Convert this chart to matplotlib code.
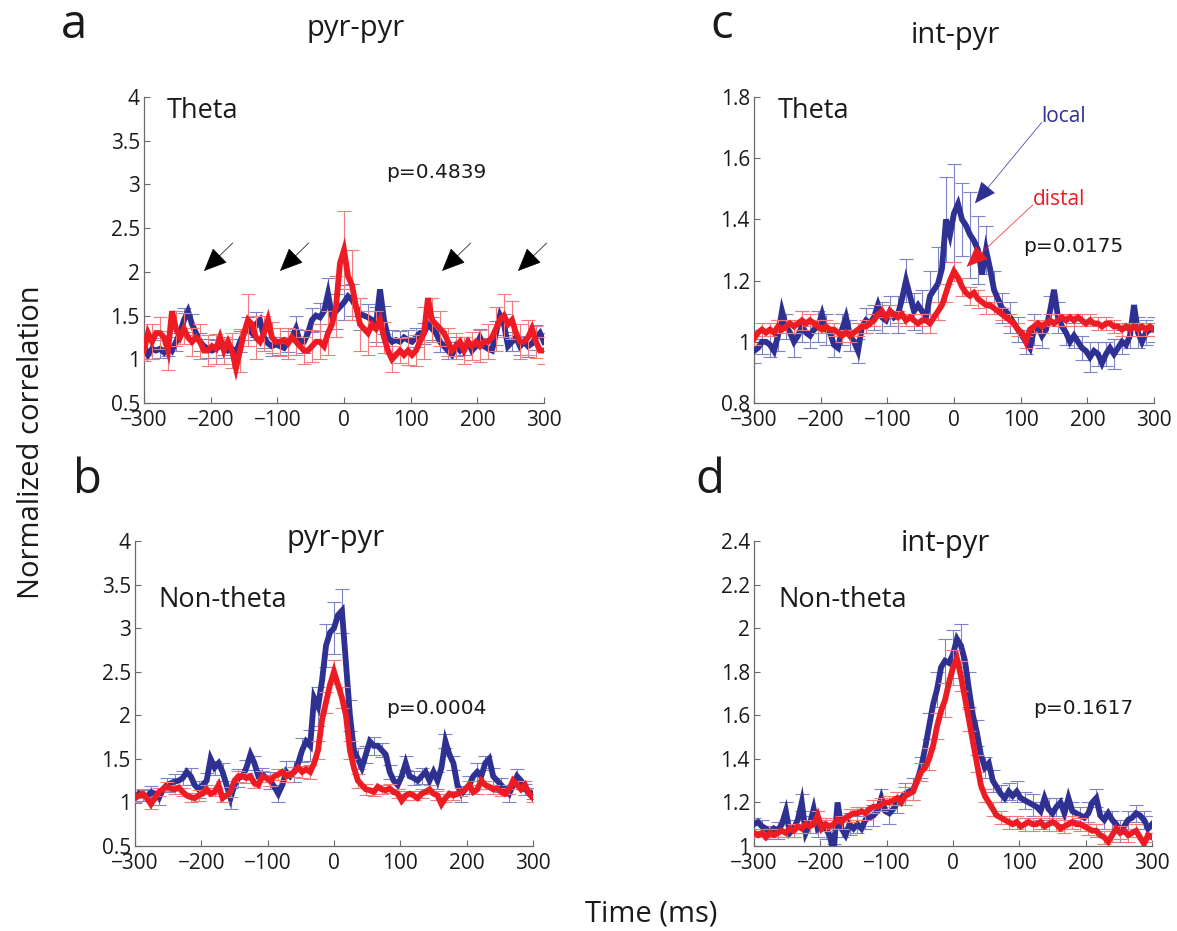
import numpy as np
import matplotlib
matplotlib.use('Agg')
import matplotlib.pyplot as plt
from matplotlib.ticker import FormatStrFormatter

# ---------------- data ----------------
time_ms = np.arange(-300, 301, 6)          # 101 lag bins (ms)
time_err = time_ms[::2]                     # error bars drawn every other bin

# panel a : pyr-pyr, theta
a_local = [1.15, 1.05, 1.12, 1.10, 1.12, 1.08, 1.15, 1.10, 1.20, 1.30,
           1.45, 1.55, 1.40, 1.30, 1.20, 1.15, 1.12, 1.10, 1.12, 1.15,
           1.15, 1.10, 1.12, 1.08, 1.20, 1.30, 1.35, 1.30, 1.40, 1.45,
           1.25, 1.18, 1.15, 1.17, 1.15, 1.13, 1.20, 1.25, 1.35, 1.20,
           1.20, 1.30, 1.45, 1.50, 1.48, 1.55, 1.75, 1.50, 1.55, 1.60,
           1.65, 1.72, 1.68, 1.60, 1.52, 1.50, 1.48, 1.45, 1.40, 1.80,
           1.45, 1.25, 1.20, 1.22, 1.20, 1.25, 1.22, 1.20, 1.25, 1.30,
           1.30, 1.40, 1.35, 1.30, 1.20, 1.15, 1.10, 1.05, 1.15, 1.10,
           1.15, 1.20, 1.10, 1.15, 1.25, 1.15, 1.12, 1.10, 1.30, 1.50,
           1.40, 1.15, 1.20, 1.25, 1.15, 1.20, 1.15, 1.18, 1.25, 1.30, 1.20]
a_distal = [1.10, 1.30, 1.20, 1.30, 1.30, 1.25, 1.10, 1.55, 1.35, 1.25,
            1.35, 1.25, 1.20, 1.25, 1.20, 1.10, 1.10, 1.15, 1.12, 1.25,
            1.10, 1.20, 1.10, 0.90, 1.10, 1.30, 1.45, 1.40, 1.25, 1.20,
            1.30, 1.45, 1.25, 1.20, 1.20, 1.22, 1.18, 1.25, 1.20, 1.15,
            1.10, 1.10, 1.15, 1.20, 1.20, 1.15, 1.30, 1.40, 1.60, 2.10,
            2.25, 1.95, 1.85, 1.60, 1.40, 1.35, 1.30, 1.40, 1.35, 1.45,
            1.25, 1.10, 1.00, 1.05, 1.10, 1.05, 1.10, 1.05, 1.10, 1.20,
            1.30, 1.70, 1.45, 1.40, 1.35, 1.30, 1.20, 1.10, 1.15, 1.20,
            1.10, 1.20, 1.15, 1.20, 1.15, 1.20, 1.20, 1.25, 1.35, 1.45,
            1.50, 1.40, 1.45, 1.30, 1.20, 1.20, 1.25, 1.35, 1.20, 1.10, 1.10]
a_local_err = [0.10, 0.12, 0.10, 0.11, 0.10, 0.14, 0.12, 0.10, 0.11, 0.10,
               0.10, 0.11, 0.12, 0.13, 0.14, 0.12, 0.11, 0.10, 0.12, 0.14,
               0.13, 0.14, 0.16, 0.18, 0.20, 0.20, 0.18, 0.18, 0.15, 0.20,
               0.16, 0.14, 0.12, 0.12, 0.11, 0.12, 0.13, 0.12, 0.10, 0.11,
               0.10, 0.11, 0.10, 0.12, 0.14, 0.12, 0.11, 0.10, 0.12, 0.14, 0.10]
a_distal_err = [0.12, 0.20, 0.18, 0.22, 0.20, 0.18, 0.16, 0.20, 0.18, 0.17,
                0.15, 0.20, 0.25, 0.30, 0.25, 0.20, 0.18, 0.16, 0.18, 0.15,
                0.15, 0.18, 0.20, 0.25, 0.35, 0.45, 0.40, 0.30, 0.25, 0.20,
                0.18, 0.15, 0.14, 0.16, 0.18, 0.30, 0.25, 0.20, 0.16, 0.15,
                0.15, 0.16, 0.18, 0.20, 0.25, 0.25, 0.22, 0.20, 0.20, 0.18, 0.15]

# panel b : pyr-pyr, non-theta
b_local = [1.05, 1.10, 1.08, 1.06, 1.12, 1.10, 1.05, 1.15, 1.20, 1.22,
           1.24, 1.25, 1.28, 1.35, 1.30, 1.20, 1.15, 1.20, 1.25, 1.50,
           1.40, 1.45, 1.35, 1.20, 1.05, 1.20, 1.28, 1.30, 1.40, 1.55,
           1.45, 1.30, 1.32, 1.28, 1.25, 1.18, 1.10, 1.20, 1.35, 1.30,
           1.35, 1.45, 1.60, 1.70, 1.65, 2.20, 2.10, 2.40, 2.80, 2.95,
           3.00, 3.15, 3.20, 2.60, 2.00, 1.60, 1.50, 1.40, 1.55, 1.70,
           1.65, 1.65, 1.60, 1.55, 1.35, 1.25, 1.20, 1.30, 1.45, 1.30,
           1.28, 1.25, 1.30, 1.35, 1.25, 1.35, 1.25, 1.40, 1.70, 1.55,
           1.45, 1.20, 1.10, 1.15, 1.20, 1.30, 1.35, 1.30, 1.45, 1.50,
           1.30, 1.25, 1.20, 1.15, 1.10, 1.20, 1.30, 1.25, 1.15, 1.12, 1.10]
b_distal = [1.05, 1.08, 1.10, 1.05, 0.98, 1.05, 1.12, 1.15, 1.18, 1.16,
            1.15, 1.17, 1.12, 1.08, 1.06, 1.05, 1.08, 1.10, 1.15, 1.10,
            1.12, 1.20, 1.05, 1.08, 1.12, 1.25, 1.30, 1.30, 1.28, 1.30,
            1.22, 1.20, 1.30, 1.28, 1.25, 1.30, 1.32, 1.35, 1.30, 1.32,
            1.35, 1.40, 1.35, 1.38, 1.35, 1.45, 1.60, 1.95, 2.15, 2.35,
            2.50, 2.35, 2.20, 2.00, 1.60, 1.40, 1.25, 1.20, 1.15, 1.14,
            1.12, 1.18, 1.15, 1.14, 1.16, 1.12, 1.10, 1.02, 1.08, 1.10,
            1.08, 1.05, 1.10, 1.12, 1.15, 1.10, 1.08, 0.98, 1.05, 1.10,
            1.08, 1.10, 1.12, 1.15, 1.20, 1.12, 1.15, 1.25, 1.20, 1.18,
            1.15, 1.16, 1.12, 1.10, 1.15, 1.25, 1.20, 1.15, 1.20, 1.10, 1.05]
b_local_err = [0.06, 0.06, 0.07, 0.08, 0.08, 0.09, 0.08, 0.10, 0.10, 0.09,
               0.08, 0.10, 0.12, 0.10, 0.09, 0.08, 0.08, 0.10, 0.10, 0.12,
               0.12, 0.14, 0.18, 0.22, 0.25, 0.30, 0.25, 0.18, 0.12, 0.10,
               0.10, 0.08, 0.08, 0.10, 0.08, 0.08, 0.09, 0.10, 0.10, 0.08,
               0.08, 0.09, 0.10, 0.10, 0.08, 0.10, 0.08, 0.09, 0.08, 0.06, 0.06]
b_distal_err = [0.05, 0.05, 0.05, 0.05, 0.05, 0.05, 0.05, 0.05, 0.06, 0.05,
                0.05, 0.05, 0.06, 0.06, 0.06, 0.05, 0.06, 0.06, 0.06, 0.06,
                0.06, 0.07, 0.08, 0.10, 0.12, 0.14, 0.12, 0.10, 0.08, 0.06,
                0.05, 0.05, 0.05, 0.05, 0.05, 0.05, 0.05, 0.05, 0.05, 0.05,
                0.05, 0.05, 0.05, 0.05, 0.05, 0.05, 0.05, 0.05, 0.05, 0.05, 0.05]

# panel c : int-pyr, theta
c_local = [0.97, 0.98, 1.00, 1.00, 0.99, 0.97, 1.02, 1.10, 1.05, 1.03,
           1.00, 1.02, 1.05, 1.03, 1.02, 1.04, 1.05, 1.09, 1.04, 1.03,
           0.99, 0.98, 1.04, 1.08, 1.02, 1.00, 0.97, 1.05, 1.07, 1.06,
           1.08, 1.12, 1.08, 1.07, 1.10, 1.08, 1.09, 1.14, 1.20, 1.15,
           1.10, 1.12, 1.10, 1.08, 1.15, 1.17, 1.19, 1.24, 1.40, 1.35,
           1.42, 1.45, 1.40, 1.38, 1.35, 1.33, 1.30, 1.22, 1.30, 1.24,
           1.17, 1.14, 1.11, 1.10, 1.08, 1.06, 1.04, 1.02, 1.00, 0.98,
           1.04, 1.05, 1.02, 1.04, 1.10, 1.17, 1.08, 1.05, 1.03, 1.00,
           1.02, 1.00, 0.98, 0.97, 0.95, 0.97, 0.96, 0.93, 0.96, 0.98,
           0.96, 0.98, 1.00, 0.99, 1.02, 1.12, 1.03, 1.00, 1.03, 1.04, 1.04]
c_distal = [1.01, 1.03, 1.04, 1.03, 1.04, 1.03, 1.05, 1.04, 1.05, 1.06,
            1.05, 1.06, 1.07, 1.06, 1.07, 1.06, 1.05, 1.04, 1.05, 1.04,
            1.04, 1.03, 1.02, 1.03, 1.02, 1.03, 1.04, 1.05, 1.05, 1.06,
            1.07, 1.09, 1.10, 1.08, 1.10, 1.09, 1.08, 1.09, 1.07, 1.08,
            1.07, 1.06, 1.07, 1.07, 1.06, 1.08, 1.10, 1.12, 1.16, 1.20,
            1.23, 1.21, 1.18, 1.16, 1.15, 1.16, 1.14, 1.13, 1.12, 1.12,
            1.11, 1.10, 1.09, 1.08, 1.07, 1.06, 1.04, 1.03, 1.00, 1.04,
            1.05, 1.06, 1.05, 1.06, 1.07, 1.06, 1.07, 1.08, 1.07, 1.08,
            1.07, 1.08, 1.07, 1.06, 1.07, 1.06, 1.06, 1.05, 1.06, 1.06,
            1.05, 1.05, 1.04, 1.05, 1.04, 1.05, 1.04, 1.05, 1.04, 1.05, 1.04]
c_local_err = [0.04, 0.04, 0.04, 0.05, 0.04, 0.05, 0.05, 0.04, 0.05, 0.05,
               0.04, 0.05, 0.05, 0.04, 0.04, 0.04, 0.05, 0.05, 0.06, 0.07,
               0.06, 0.07, 0.08, 0.12, 0.14, 0.16, 0.12, 0.14, 0.11, 0.08,
               0.06, 0.05, 0.05, 0.04, 0.04, 0.05, 0.04, 0.05, 0.05, 0.04,
               0.04, 0.04, 0.05, 0.04, 0.04, 0.05, 0.04, 0.04, 0.05, 0.04, 0.04]
c_distal_err = [0.02, 0.02, 0.02, 0.02, 0.02, 0.02, 0.03, 0.02, 0.02, 0.02,
                0.02, 0.02, 0.02, 0.02, 0.02, 0.02, 0.02, 0.02, 0.02, 0.02,
                0.02, 0.02, 0.03, 0.03, 0.03, 0.03, 0.03, 0.03, 0.03, 0.03,
                0.02, 0.02, 0.02, 0.02, 0.02, 0.02, 0.02, 0.02, 0.02, 0.02,
                0.02, 0.02, 0.02, 0.02, 0.02, 0.02, 0.02, 0.02, 0.02, 0.02, 0.02]

# panel d : int-pyr, non-theta
d_local = [1.10, 1.11, 1.09, 1.08, 1.06, 1.08, 1.07, 1.10, 1.16, 1.06,
           1.08, 1.12, 1.20, 1.06, 1.10, 1.17, 1.08, 1.10, 1.08, 1.05,
           0.97, 1.20, 1.08, 1.05, 1.10, 1.08, 1.10, 1.08, 1.12, 1.13,
           1.14, 1.16, 1.22, 1.16, 1.15, 1.17, 1.20, 1.22, 1.24, 1.25,
           1.26, 1.30, 1.36, 1.45, 1.55, 1.65, 1.72, 1.82, 1.85, 1.84,
           1.88, 1.95, 1.92, 1.85, 1.72, 1.60, 1.52, 1.42, 1.36, 1.38,
           1.30, 1.27, 1.24, 1.22, 1.25, 1.23, 1.25, 1.22, 1.21, 1.20,
           1.19, 1.18, 1.16, 1.22, 1.17, 1.15, 1.18, 1.20, 1.15, 1.22,
           1.16, 1.15, 1.14, 1.13, 1.15, 1.20, 1.22, 1.14, 1.12, 1.15,
           1.12, 1.10, 1.07, 1.09, 1.12, 1.13, 1.15, 1.14, 1.12, 1.08, 1.10]
d_distal = [1.06, 1.05, 1.06, 1.04, 1.06, 1.05, 1.06, 1.07, 1.06, 1.08,
            1.07, 1.09, 1.08, 1.10, 1.09, 1.10, 1.14, 1.08, 1.10, 1.09,
            1.10, 1.12, 1.11, 1.13, 1.14, 1.15, 1.15, 1.16, 1.15, 1.17,
            1.18, 1.18, 1.19, 1.20, 1.20, 1.21, 1.22, 1.20, 1.23, 1.24,
            1.25, 1.30, 1.34, 1.36, 1.40, 1.46, 1.55, 1.62, 1.67, 1.75,
            1.82, 1.86, 1.78, 1.68, 1.58, 1.48, 1.38, 1.28, 1.23, 1.20,
            1.17, 1.14, 1.13, 1.12, 1.11, 1.10, 1.11, 1.09, 1.10, 1.11,
            1.10, 1.10, 1.11, 1.09, 1.10, 1.11, 1.10, 1.08, 1.09, 1.10,
            1.11, 1.10, 1.10, 1.09, 1.08, 1.07, 1.07, 1.05, 1.04, 1.02,
            1.05, 1.08, 1.06, 1.07, 1.05, 1.06, 1.07, 1.04, 1.01, 1.05, 1.04]
d_local_err = [0.03, 0.03, 0.03, 0.04, 0.04, 0.04, 0.04, 0.04, 0.04, 0.05,
               0.04, 0.04, 0.05, 0.04, 0.04, 0.05, 0.04, 0.05, 0.05, 0.05,
               0.05, 0.05, 0.06, 0.08, 0.10, 0.11, 0.10, 0.08, 0.06, 0.05,
               0.05, 0.04, 0.04, 0.05, 0.04, 0.05, 0.04, 0.05, 0.04, 0.05,
               0.04, 0.04, 0.05, 0.04, 0.04, 0.04, 0.05, 0.04, 0.04, 0.04, 0.04]
d_distal_err = [0.02, 0.02, 0.02, 0.02, 0.02, 0.03, 0.02, 0.03, 0.02, 0.03,
                0.02, 0.03, 0.03, 0.03, 0.03, 0.03, 0.03, 0.03, 0.03, 0.04,
                0.04, 0.04, 0.05, 0.06, 0.08, 0.08, 0.07, 0.05, 0.04, 0.03,
                0.03, 0.03, 0.03, 0.03, 0.03, 0.03, 0.03, 0.03, 0.03, 0.03,
                0.03, 0.03, 0.03, 0.03, 0.03, 0.03, 0.03, 0.03, 0.03, 0.02, 0.02]

x_ticks = [-300, -200, -100, 0, 100, 200, 300]
panel_letters = ['a', 'b', 'c', 'd']
panel_titles = ['pyr-pyr', 'pyr-pyr', 'int-pyr', 'int-pyr']
state_labels = ['Theta', 'Non-theta', 'Theta', 'Non-theta']
p_labels = ['p=0.4839', 'p=0.0004', 'p=0.0175', 'p=0.1617']
arrow_tips_a = [-210, -96, 147, 261]

# ---------------- style ----------------
BLUE = '#2E3192'
RED = '#ED1C24'
BLUE_ERR = '#7E82C6'
RED_ERR = '#F47A7A'
plt.rcParams['font.family'] = ['Open Sans', 'DejaVu Sans']

W, H = 1177, 931
fig = plt.figure(figsize=(W / 100, H / 100), dpi=100)


def rect(left, top, right, bottom):
    return [left / W, 1 - bottom / H, (right - left) / W, (bottom - top) / H]


def ftext(px, py, s, **kw):
    fig.text(px / W, 1 - py / H, s, **kw)


def panel(r, local, distal, lerr, derr, ylim, ystep):
    ax = fig.add_axes(r)
    loc = np.asarray(local)
    dis = np.asarray(distal)
    ax.errorbar(time_err, loc[::2], yerr=lerr, fmt='none', ecolor=BLUE_ERR,
                elinewidth=0.8, capsize=5, capthick=0.8, zorder=2)
    ax.plot(time_ms, loc, color=BLUE, lw=4.2, zorder=3, solid_joinstyle='miter')
    ax.errorbar(time_err, dis[::2], yerr=derr, fmt='none', ecolor=RED_ERR,
                elinewidth=0.8, capsize=5, capthick=0.8, zorder=4)
    ax.plot(time_ms, dis, color=RED, lw=4.2, zorder=5, solid_joinstyle='miter')
    ax.set_xlim(-300, 300)
    ax.set_ylim(*ylim)
    ax.set_xticks(x_ticks)
    ax.set_yticks(np.arange(ylim[0], ylim[1] + ystep / 2, ystep))
    ax.yaxis.set_major_formatter(FormatStrFormatter('%g'))
    for s in ('top', 'right'):
        ax.spines[s].set_visible(False)
    for s in ('left', 'bottom'):
        ax.spines[s].set_color('#6a6a6a')
        ax.spines[s].set_linewidth(0.9)
    ax.tick_params(direction='in', length=4, width=0.8, color='#6a6a6a',
                   labelsize=15, labelcolor='#1a1a1a')
    ax.tick_params(axis='y', pad=3)
    ax.tick_params(axis='x', pad=5)
    return ax


ax_a = panel(rect(144, 97, 544, 403), a_local, a_distal, a_local_err, a_distal_err, (0.5, 4.0), 0.5)
ax_c = panel(rect(754, 97, 1154, 403), c_local, c_distal, c_local_err, c_distal_err, (0.8, 1.8), 0.2)
ax_b = panel(rect(135, 541, 533, 846), b_local, b_distal, b_local_err, b_distal_err, (0.5, 4.0), 0.5)
ax_d = panel(rect(754, 541, 1152, 846), d_local, d_distal, d_local_err, d_distal_err, (1.0, 2.4), 0.2)

axes = [ax_a, ax_b, ax_c, ax_d]
state_pos = [(0.0575, 0.931), (0.058, 0.784), (0.06, 0.931), (0.06, 0.784)]
p_pos = [(63, 3.074), (78.4, 2.015), (103.5, 1.293), (120.6, 1.606)]
for ax, st, sp, pl, pp in zip(axes, state_labels, state_pos, p_labels, p_pos):
    ax.text(sp[0], sp[1], st, transform=ax.transAxes, fontsize=19.5,
            color='#1a1a1a', ha='left', va='baseline')
    ax.text(pp[0], pp[1], pl, fontsize=14.5, family='DejaVu Sans',
            color='#1a1a1a', ha='left', va='baseline')

# arrows marking theta-rhythmic side peaks in panel a
for tip in arrow_tips_a:
    ax_a.annotate('', xy=(tip, 2.01), xytext=(tip + 43, 2.33),
                  arrowprops=dict(arrowstyle='-|>,head_length=0.75,head_width=0.33',
                                  color='black', lw=0.5, mutation_scale=20,
                                  shrinkA=0, shrinkB=0),
                  annotation_clip=False)

# local / distal labels in panel c
ax_c.text(131.5, 1.717, 'local', color=BLUE, fontsize=15, ha='left', va='baseline')
ax_c.text(118, 1.447, 'distal', color=RED, fontsize=15, ha='left', va='baseline')
ax_c.annotate('', xy=(31.5, 1.4526), xytext=(131.5, 1.717),
              arrowprops=dict(arrowstyle='-|>,head_length=0.7,head_width=0.3',
                              color=BLUE, lw=0.5, mutation_scale=20,
                              shrinkA=0, shrinkB=0), zorder=6)
ax_c.annotate('', xy=(19, 1.2454), xytext=(118, 1.447),
              arrowprops=dict(arrowstyle='-|>,head_length=0.7,head_width=0.3',
                              color=RED, lw=0.5, mutation_scale=20,
                              shrinkA=0, shrinkB=0), zorder=6)

# titles, panel letters, shared labels
ftext(356, 36, panel_titles[0], fontsize=21, ha='center', va='baseline', color='#1a1a1a')
ftext(336, 546, panel_titles[1], fontsize=21, ha='center', va='baseline', color='#1a1a1a')
ftext(955, 43, panel_titles[2], fontsize=21, ha='center', va='baseline', color='#1a1a1a')
ftext(945, 551, panel_titles[3], fontsize=21, ha='center', va='baseline', color='#1a1a1a')

ftext(61, 38, panel_letters[0], fontsize=34, ha='left', va='baseline', color='#1a1a1a')
ftext(73, 493, panel_letters[1], fontsize=34, ha='left', va='baseline', color='#1a1a1a')
ftext(710, 38, panel_letters[2], fontsize=34, ha='left', va='baseline', color='#1a1a1a')
ftext(695, 493, panel_letters[3], fontsize=34, ha='left', va='baseline', color='#1a1a1a')

ftext(32, 442, 'Normalized correlation', fontsize=21, rotation=90, ha='center',
      va='center', color='#1a1a1a')
ftext(651, 922, 'Time (ms)', fontsize=21, ha='center', va='baseline', color='#1a1a1a')

fig.savefig('out.png', dpi=100)
